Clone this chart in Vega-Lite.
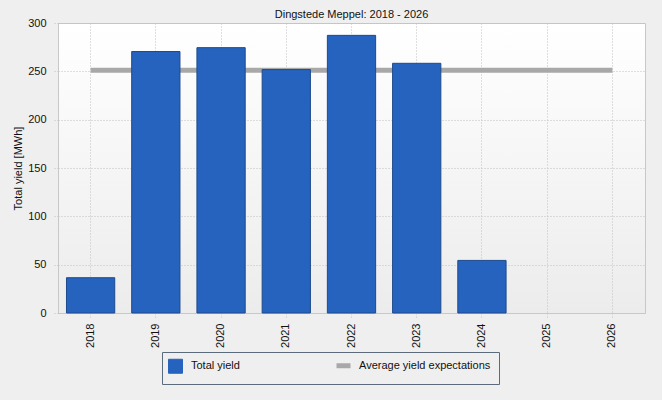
{
  "$schema": "https://vega.github.io/schema/vega-lite/v6.json",
  "description": "Dingstede Meppel yearly yield vs average expectation",
  "autosize": {"type": "none"},
  "padding": {"left": 58, "top": 23, "right": 17, "bottom": 87},
  "width": 587,
  "height": 290,
  "background": "#efefef",
  "title": {
    "text": "Dingstede Meppel: 2018 - 2026",
    "fontSize": 11,
    "fontWeight": "normal",
    "font": "Liberation Sans",
    "color": "#111111",
    "offset": -3
  },
  "data": {
    "values": [
      {"year": "2018", "yield": 36.5, "expected": 251},
      {"year": "2019", "yield": 270.5, "expected": 251},
      {"year": "2020", "yield": 274.5, "expected": 251},
      {"year": "2021", "yield": 251.8, "expected": 251},
      {"year": "2022", "yield": 287.2, "expected": 251},
      {"year": "2023", "yield": 258.3, "expected": 251},
      {"year": "2024", "yield": 54.4, "expected": 251},
      {"year": "2025", "yield": null, "expected": 251},
      {"year": "2026", "yield": null, "expected": 251}
    ]
  },
  "encoding": {
    "x": {
      "field": "year",
      "type": "ordinal",
      "scale": {"paddingInner": 0.26, "paddingOuter": 0.13},
      "axis": {
        "title": null,
        "labelAngle": 270,
        "labelAlign": "right",
        "labelBaseline": "middle",
        "labelPadding": 5,
        "tickSize": 5,
        "tickColor": "#c0c0c0",
        "tickDash": [1, 2],
        "domainColor": "#c8c8c8",
        "grid": true,
        "gridColor": "#c0c0c0",
        "gridDash": [1, 2]
      }
    }
  },
  "layer": [
    {
      "mark": {"type": "line", "strokeWidth": 5},
      "encoding": {
        "y": {
          "field": "expected",
          "type": "quantitative",
          "title": "Total yield [MWh]",
          "axis": {"title": "Total yield [MWh]"}
        },
        "color": {
          "datum": "Average yield expectations",
          "scale": {
            "domain": ["Total yield", "Average yield expectations"],
            "range": ["#2563be", "#a8a8a8"]
          },
          "legend": {
            "encode": {
              "symbols": {
                "update": {
                  "shape": {"signal": "datum.label === 'Total yield' ? 'square' : 'stroke'"},
                  "fill": {"signal": "datum.label === 'Total yield' ? '#2563be' : 'transparent'"},
                  "stroke": {"signal": "datum.label === 'Total yield' ? '#1d4a8c' : '#a8a8a8'"},
                  "strokeWidth": {"signal": "datum.label === 'Total yield' ? 1 : 5"},
                  "opacity": {"value": 1}
                }
              }
            }
          }
        }
      }
    },
    {
      "mark": {"type": "bar", "stroke": "#1d4a8c", "strokeWidth": 1, "opacity": 1},
      "encoding": {
        "y": {"field": "yield", "type": "quantitative", "title": "Total yield [MWh]"},
        "color": {"datum": "Total yield"}
      }
    }
  ],
  "config": {
    "font": "Liberation Sans",
    "view": {
      "stroke": "#c8c8c8",
      "fill": {
        "gradient": "linear",
        "x1": 0, "y1": 0, "x2": 0, "y2": 1,
        "stops": [
          {"offset": 0, "color": "#ffffff"},
          {"offset": 1, "color": "#ececec"}
        ]
      }
    },
    "axis": {
      "labelFontSize": 11,
      "labelColor": "#111111",
      "titleFontSize": 11,
      "titleFontWeight": "normal",
      "titleColor": "#111111"
    },
    "axisY": {
      "tickSize": 5,
      "tickColor": "#c0c0c0",
      "tickDash": [1, 2],
      "labelPadding": 7,
      "titlePadding": 4,
      "domainColor": "#c8c8c8",
      "domainDash": [3, 2],
      "gridColor": "#c0c0c0",
      "gridDash": [1, 2],
      "tickCount": 6
    },
    "legend": {
      "orient": "none",
      "legendX": 104,
      "legendY": 329,
      "direction": "horizontal",
      "title": null,
      "strokeColor": "#5b6b7b",
      "padding": 8,
      "labelFontSize": 11,
      "labelColor": "#111111",
      "labelOffset": 10,
      "symbolSize": 196,
      "columnPadding": 86,
      "labelLimit": 300
    }
  }
}
